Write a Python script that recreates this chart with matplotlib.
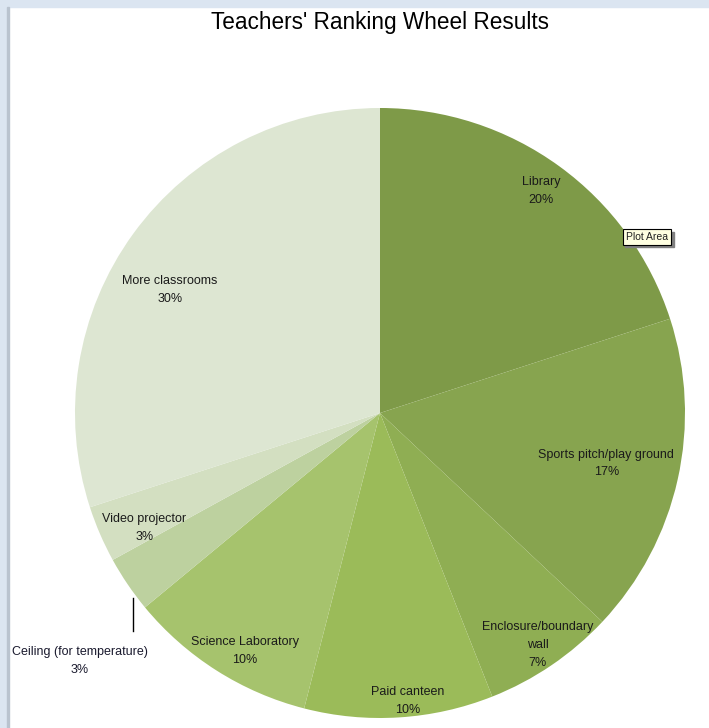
import numpy as np
import matplotlib.pyplot as plt
from matplotlib import font_manager
from matplotlib.patches import Rectangle

plt.rcParams['font.family'] = ['Liberation Sans', 'DejaVu Sans']

# Data (percent, clockwise from 12 o'clock)
categories = ['Library', 'Sports pitch/play ground', 'Enclosure/boundary\nwall', 'Paid canteen',
              'Science Laboratory', 'Ceiling (for temperature)', 'Video projector', 'More classrooms']
values = [20, 17, 7, 10, 10, 3, 3, 30]
colors = ['#7e9a48', '#87a44f', '#8fae53', '#9bbb59', '#a6c36d', '#bdd19f', '#d3dfc1', '#dde6d2']

# label placement: distance from centre (fraction of radius) and angle nudge (deg)
label_r = [0.90, 0.76, 0.92, 0.95, 0.897, None, 0.859, 0.798]
label_dang = [0, 0, 0, 1.9, 2.8, 0, 2.6, 5.7]

names = {f.name for f in font_manager.fontManager.ttflist}
title_font = 'Liberation Sans Narrow' if 'Liberation Sans Narrow' in names else 'Liberation Sans'
title_size = 20 if title_font == 'Liberation Sans Narrow' else 16.3

fig = plt.figure(figsize=(7.09, 7.28), dpi=100)
W, H = 709, 728

# window frame (light blue strips at top/left)
fig.patches.append(Rectangle((0, 1 - 7 / H), 1, 7 / H, transform=fig.transFigure,
                             color='#dbe5f1', zorder=0))
fig.patches.append(Rectangle((0, 0), 7 / W, 1, transform=fig.transFigure,
                             color='#dbe5f1', zorder=0))
fig.patches.append(Rectangle((7 / W, 0), 1.5 / W, 1 - 7 / H, transform=fig.transFigure,
                             color='#b9c3cf', zorder=0))

cx, cy, R = 380, 413, 305
ax = fig.add_axes([(cx - R) / W, (H - cy - R) / H, 2 * R / W, 2 * R / H])

wedges, _ = ax.pie(values, colors=colors, startangle=90, counterclock=False,
                   radius=1, wedgeprops={'linewidth': 0})
ax.set_xlim(-1, 1)
ax.set_ylim(-1, 1)
ax.set_aspect('auto')
ax.axis('off')

total = sum(values)
cum = 0
for name, v, lr, da in zip(categories, values, label_r, label_dang):
    mid = np.deg2rad(90 - 360 * (cum + v / 2) / total + da)
    cum += v
    txt = f'{name}\n{v}%'
    if lr is None:
        # outside label with leader line
        lx = -0.81
        ax.plot([lx, lx], [-0.605, -0.715], color='black', lw=1, clip_on=False)
        ax.text(-0.985, -0.812, txt, ha='center', va='center', fontsize=9,
                color='#1a1a2e', clip_on=False, linespacing=1.65)
    else:
        ax.text(lr * np.cos(mid), lr * np.sin(mid), txt, ha='center', va='center',
                fontsize=9, color='#1a1a1a', linespacing=1.65)

fig.text(380 / W, 1 - 22 / H, "Teachers' Ranking Wheel Results", ha='center', va='center',
         fontsize=title_size, family=title_font, color='black')

# tooltip left in the screenshot (with a small drop shadow)
fig.patches.append(Rectangle((625 / W, 1 - 247 / H), 49 / W, 15 / H, transform=fig.transFigure,
                             color='#808080', zorder=5))
fig.text(647 / W, 1 - 237 / H, 'Plot Area', ha='center', va='center', fontsize=7.5,
         color='#222222', zorder=6,
         bbox=dict(boxstyle='square,pad=0.3', facecolor='#ffffe1', edgecolor='black', linewidth=0.8))

fig.savefig('out.png', dpi=100)
